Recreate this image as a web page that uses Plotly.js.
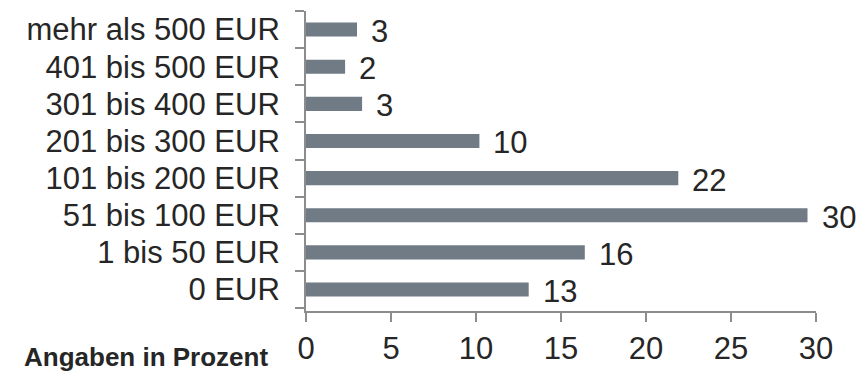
<!DOCTYPE html>
<html>
<head>
<meta charset="utf-8">
<script src="https://cdn.plot.ly/plotly-3.0.1.min.js"></script>
<style>html,body{margin:0;padding:0;background:#fff;}#chart{width:864px;height:371px;}</style>
</head>
<body>
<div id="chart"></div>
<script>
// Data (bottom to top)
const categories = ["0 EUR", "1 bis 50 EUR", "51 bis 100 EUR", "101 bis 200 EUR", "201 bis 300 EUR", "301 bis 400 EUR", "401 bis 500 EUR", "mehr als 500 EUR"];
const values = [13.1, 16.4, 29.5, 21.9, 10.2, 3.3, 2.3, 3.0];
const valueLabels = ["13", "16", "30", "22", "10", "3", "2", "3"];
const xTicks = [0, 5, 10, 15, 20, 25, 30];
const footnote = "Angaben in Prozent";

const barColor = "#707b85";
const textColor = "#262626";
const axisColor = "#8c8c8c";
const fontFamily = "Liberation Sans, Arial, sans-serif";

const trace = {
  type: "bar",
  orientation: "h",
  y: categories,
  x: values,
  marker: {color: barColor, line: {width: 0}},
  hoverinfo: "none"
};

const annotations = values.map((v, i) => ({
  x: v, y: categories[i], xref: "x", yref: "y",
  text: valueLabels[i], showarrow: false,
  xanchor: "left", yanchor: "middle", xshift: 12, yshift: -2,
  font: {family: fontFamily, size: 31, color: textColor}
}));

const plotW = 864 - 306 - 48, plotH = 371 - 11 - 60;
annotations.push({
  x: (22 - 306) / plotW, y: (371 - 60 - 357) / plotH, xref: "paper", yref: "paper",
  text: "<b>" + footnote + "</b>",
  showarrow: false, xanchor: "left", yanchor: "middle",
  font: {family: fontFamily, size: 26, color: textColor}
});

const layout = {
  width: 864, height: 371,
  margin: {l: 306, r: 48, t: 11, b: 60, pad: 0},
  paper_bgcolor: "#fff", plot_bgcolor: "#fff",
  showlegend: false,
  bargap: 0.62,
  xaxis: {
    range: [0, 30], tickvals: xTicks, ticktext: xTicks.map(String),
    showgrid: false, zeroline: false,
    showline: true, linecolor: axisColor, linewidth: 2,
    ticks: "outside", ticklen: 9, tickwidth: 2, tickcolor: axisColor,
    ticklabelstandoff: 0,
    tickfont: {family: fontFamily, size: 31, color: textColor},
    fixedrange: true
  },
  yaxis: {
    type: "category", categoryorder: "array", categoryarray: categories,
    showgrid: false, zeroline: false,
    showline: true, linecolor: axisColor, linewidth: 2,
    ticks: "outside", tickson: "boundaries", ticklen: 9, tickwidth: 2, tickcolor: axisColor,
    ticklabelstandoff: 18,
    tickfont: {family: fontFamily, size: 31, color: textColor},
    fixedrange: true
  },
  annotations: annotations
};

Plotly.newPlot("chart", [trace], layout, {displayModeBar: false, staticPlot: true});
</script>
</body>
</html>
